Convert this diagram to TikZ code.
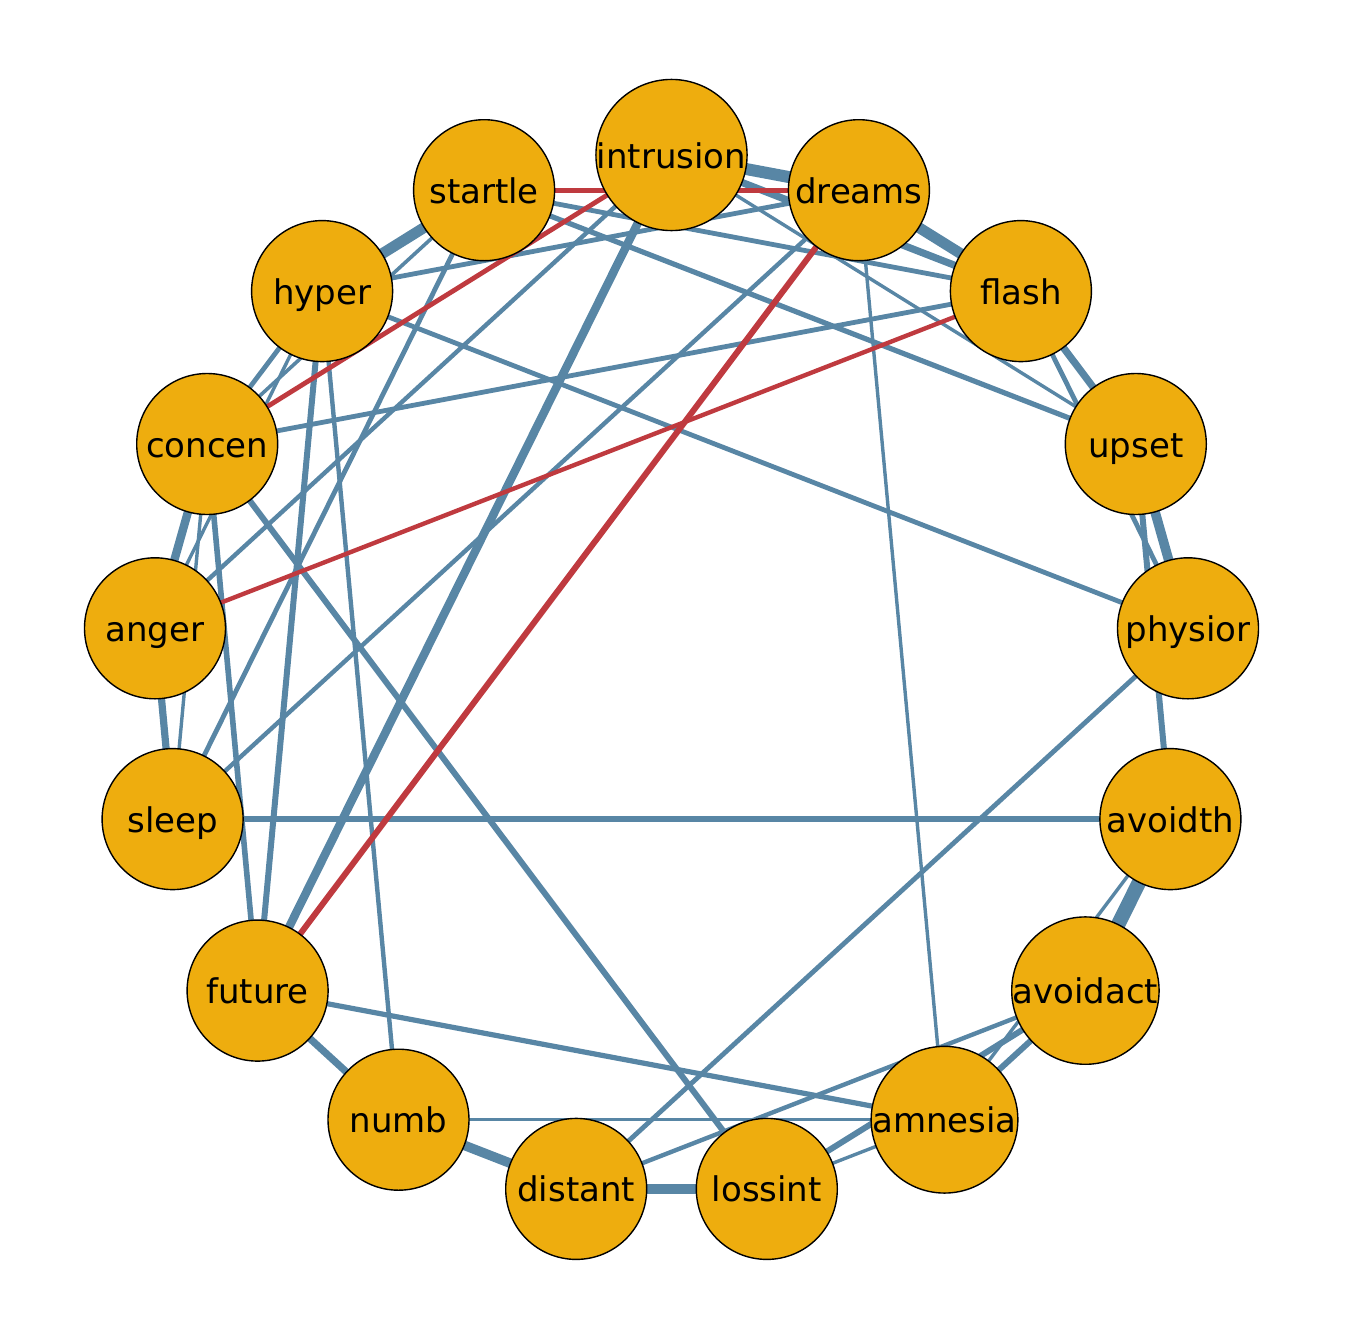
\documentclass[tikz,border=0pt]{standalone}
\usepackage{fontspec}
\setmainfont{DejaVu Sans}
\usetikzlibrary{backgrounds}
\definecolor{nodefill}{RGB}{238,173,14}
\definecolor{eblue}{RGB}{88,134,165}
\definecolor{ered}{RGB}{191,58,63}
\begin{document}
\begin{tikzpicture}[x=0.5pt,y=-0.5pt,
  vnode/.style={circle,draw=black,line width=0.7pt,fill=nodefill,minimum size=70.5pt,inner sep=0pt,text height=13pt,text depth=0pt,font=\fontsize{17}{20}\selectfont},
  pos/.style={draw=eblue,line width=#1},
  neg/.style={draw=ered,line width=#1}]
\useasboundingbox (0,0) rectangle (1344,1344);
\node[vnode] (intrusion) at (671.5,155.0) {intrusion};
\node[vnode] (dreams) at (858.9,190.2) {dreams};
\node[vnode] (flash) at (1020.9,291.1) {flash};
\node[vnode] (upset) at (1135.8,444.0) {upset};
\node[vnode] (physior) at (1188.0,628.3) {physior};
\node[vnode] (avoidth) at (1170.4,819.1) {avoidth};
\node[vnode] (avoidact) at (1085.4,990.6) {avoidact};
\node[vnode] (amnesia) at (944.5,1119.7) {amnesia};
\node[vnode] (lossint) at (766.8,1188.9) {lossint};
\node[vnode] (distant) at (576.2,1188.9) {distant};
\node[vnode] (numb) at (398.5,1119.7) {numb};
\node[vnode] (future) at (257.6,990.6) {future};
\node[vnode] (sleep) at (172.6,819.1) {sleep};
\node[vnode] (anger) at (155.0,628.3) {anger};
\node[vnode] (concen) at (207.2,444.0) {concen};
\node[vnode] (hyper) at (322.1,291.1) {hyper};
\node[vnode] (startle) at (484.1,190.2) {startle};
\begin{pgfonlayer}{background}
% thin
\draw[pos=1.7pt] (dreams.center) -- (amnesia.center);
\draw[pos=1.7pt] (numb.center) -- (amnesia.center);
\draw[pos=1.7pt] (lossint.center) -- (amnesia.center);
\draw[pos=1.7pt] (avoidth.center) -- (amnesia.center);
\draw[pos=1.7pt] (intrusion.center) -- (upset.center);
\draw[pos=1.7pt] (sleep.center) -- (concen.center);
\draw[pos=1.7pt] (anger.center) -- (hyper.center);
\draw[pos=1.8pt] (concen.center) -- (startle.center);
% medium
\draw[pos=3.6pt] (numb.center) -- (future.center);
\draw[pos=2.8pt] (concen.center) -- (future.center);
\draw[pos=3pt] (hyper.center) -- (future.center);
\draw[pos=3pt] (concen.center) -- (lossint.center);
\draw[pos=3pt] (avoidact.center) -- (amnesia.center);
\draw[pos=3pt] (lossint.center) -- (avoidact.center);
\draw[pos=3pt] (upset.center) -- (avoidth.center);
\draw[pos=2.7pt] (sleep.center) -- (avoidth.center);
\draw[pos=2.4pt] (physior.center) -- (distant.center);
\draw[pos=2.4pt] (physior.center) -- (hyper.center);
\draw[pos=2.6pt] (startle.center) -- (upset.center);
\draw[pos=2.4pt] (startle.center) -- (flash.center);
\draw[pos=2.4pt] (concen.center) -- (flash.center);
\draw[pos=2.2pt] (intrusion.center) -- (anger.center);
\draw[pos=2.2pt] (sleep.center) -- (dreams.center);
\draw[pos=2.4pt] (sleep.center) -- (startle.center);
\draw[pos=2.4pt] (hyper.center) -- (dreams.center);
\draw[pos=2.2pt] (hyper.center) -- (numb.center);
\draw[pos=2.6pt] (future.center) -- (amnesia.center);
\draw[pos=2.2pt] (avoidact.center) -- (distant.center);
\draw[pos=2.4pt] (concen.center) -- (hyper.center);
\draw[pos=2.4pt] (flash.center) -- (physior.center);
% thick
\draw[pos=6pt] (intrusion.center) -- (dreams.center);
\draw[pos=5.4pt] (dreams.center) -- (flash.center);
\draw[pos=7.2pt] (avoidth.center) -- (avoidact.center);
\draw[pos=4.8pt] (distant.center) -- (lossint.center);
\draw[pos=4.8pt] (numb.center) -- (distant.center);
\draw[pos=5.4pt] (hyper.center) -- (startle.center);
\draw[pos=4.2pt] (concen.center) -- (anger.center);
\draw[pos=3.6pt] (anger.center) -- (sleep.center);
\draw[pos=4.8pt] (upset.center) -- (physior.center);
\draw[pos=3.6pt] (flash.center) -- (upset.center);
\draw[pos=4.2pt] (intrusion.center) -- (future.center);
\draw[pos=3.6pt] (intrusion.center) -- (flash.center);
% negative
\draw[neg=2.4pt] (startle.center) -- (dreams.center);
\draw[neg=2.4pt] (concen.center) -- (intrusion.center);
\draw[neg=2.2pt] (anger.center) -- (flash.center);
\draw[neg=3pt] (future.center) -- (dreams.center);
\end{pgfonlayer}
\end{tikzpicture}
\end{document}
